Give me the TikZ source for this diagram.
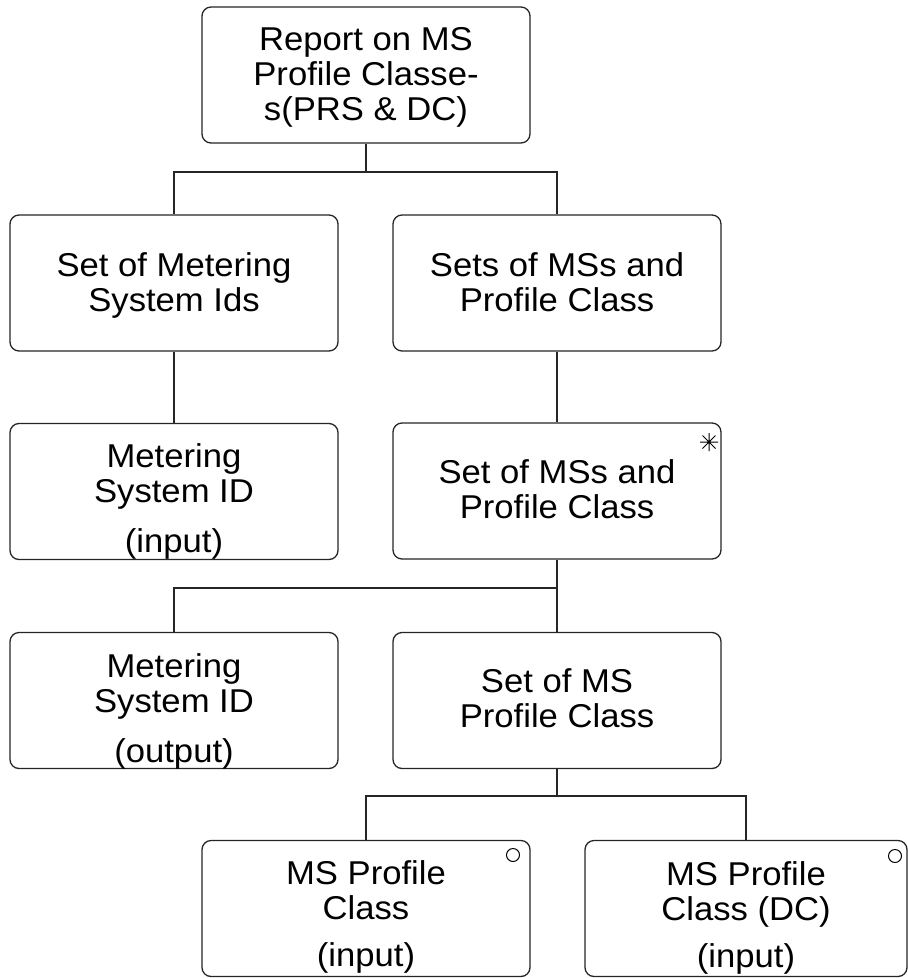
\documentclass[tikz,border=0pt]{standalone}
\usepackage{fontspec}
\setmainfont{Liberation Sans}[FakeStretch=1.05]
\begin{document}
\begin{tikzpicture}[x=1pt,y=-1pt,
  box/.style={draw=black!85, line width=1.3pt, rounded corners=9pt, minimum width=328pt, minimum height=136pt, inner sep=0pt, fill=white},
  lbl/.style={align=center, anchor=base, inner sep=0pt, font=\fontsize{33}{35}\selectfont},
  conn/.style={draw=black!85, line width=1.3pt},
  markerline/.style={line width=1pt}]
\useasboundingbox (0,0) rectangle (908,978);
% boxes
\node[box] (top) at (366,75) {};
\node[box] (b2) at (174,283) {};
\node[box] (b3) at (557,283) {};
\node[box] (b4) at (174,491.5) {};
\node[box] (b5) at (557,491) {};
\node[box] (b6) at (174,700.5) {};
\node[box] (b7) at (557,700.5) {};
\node[box] (b8) at (366,908.5) {};
\node[box, minimum width=322pt] (b9) at (746,908.5) {};
% texts (anchored at the baseline of the last line)
\node[lbl] (ttop) at (366,120) {Report on MS\\Profile Classe-\\s(PRS \& DC)};
\node[lbl] (tb2) at (174,311) {Set of Metering\\System Ids};
\node[lbl] (tb3) at (557,311) {Sets of MSs and\\Profile Class};
\node[lbl] (tb4) at (174,552) {Metering\\System ID\\[15pt](input)};
\node[lbl] (tb5) at (557,518) {Set of MSs and\\Profile Class};
\node[lbl] (tb6) at (174,762) {Metering\\System ID\\[15pt](output)};
\node[lbl] (tb7) at (557,727) {Set of MS\\Profile Class};
\node[lbl] (tb8) at (366,966) {MS Profile\\Class\\[12pt](input)};
\node[lbl] (tb9) at (746,967) {MS Profile\\Class (DC)\\[12pt](input)};
% markers
\coordinate (ast) at (709,442);
\draw[markerline] ([xshift=-9pt]ast) -- ([xshift=9pt]ast)
  ([yshift=-9pt]ast) -- ([yshift=9pt]ast)
  ([xshift=-6.5pt,yshift=-6.5pt]ast) -- ([xshift=6.5pt,yshift=6.5pt]ast)
  ([xshift=-6.5pt,yshift=6.5pt]ast) -- ([xshift=6.5pt,yshift=-6.5pt]ast);
\coordinate (c8) at (513,855);
\coordinate (c9) at (895,856);
\draw[markerline] (c8) circle (6.5pt);
\draw[markerline] (c9) circle (6.5pt);
% connectors
\coordinate (j1) at (366,172);
\draw[conn] (top.south) -- (j1);
\draw[conn] (b2.north) |- (j1) -| (b3.north);
\draw[conn] (b2.south) -- (b4.north);
\draw[conn] (b3.south) -- (b5.north);
\coordinate (j2) at (557,588);
\draw[conn] (b5.south) -- (j2);
\draw[conn] (b6.north) |- (j2) -- (b7.north);
\coordinate (j3) at (557,796);
\draw[conn] (b7.south) -- (j3);
\draw[conn] (b8.north) |- (j3) -| (b9.north);
\end{tikzpicture}
\end{document}
